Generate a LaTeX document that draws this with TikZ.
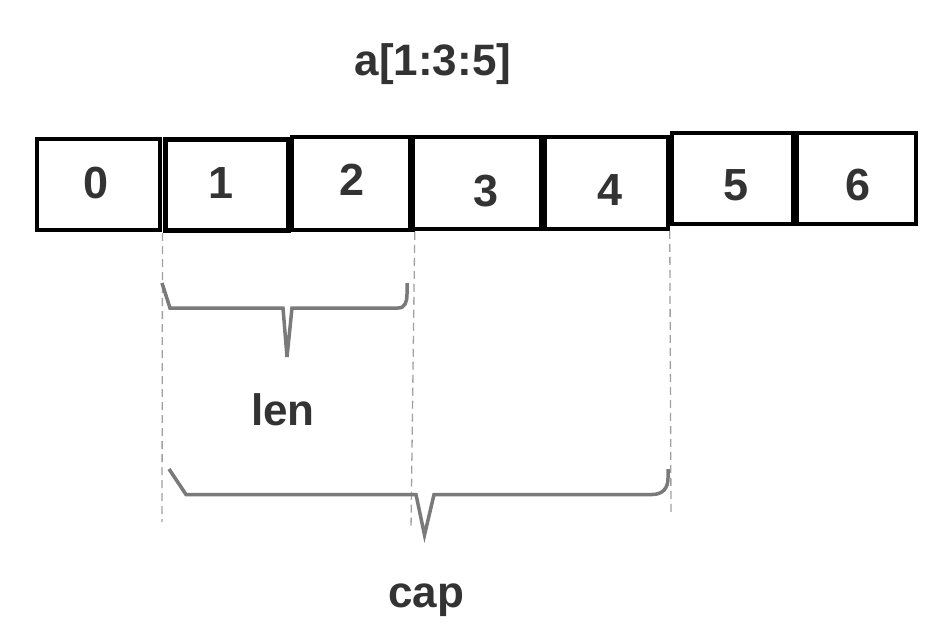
\documentclass[tikz,border=0pt]{standalone}
\usepackage{fontspec}
\setmainfont{Liberation Sans}
\definecolor{txt}{HTML}{333333}
\definecolor{brace}{HTML}{7A7A7A}
\definecolor{guide}{HTML}{A0A0A0}
\tikzset{
  cell/.style={draw=black, line width=3.5pt, inner sep=0pt, fill=none},
  thickcell/.style={cell, line width=5pt},
  digit/.style={anchor=base, text=txt, inner sep=0pt, font=\fontsize{45}{50}\selectfont\bfseries},
  label/.style={anchor=base, text=txt, inner sep=0pt, font=\fontsize{44}{50}\selectfont\bfseries},
  guideline/.style={draw=guide, line width=1.3pt, dash pattern=on 8pt off 5pt},
  bracepath/.style={draw=brace, line width=3.5pt, line join=miter, line cap=butt}
}
\begin{document}
\begin{tikzpicture}[x=1pt,y=-1pt]
\useasboundingbox[fill=white] (0,0) rectangle (950,630);
% cells
\node[cell, minimum width=123pt, minimum height=91pt] (c0) at (98.5,184.5) {};
\node[thickcell, minimum width=123pt, minimum height=91pt] (c1) at (226.5,185) {};
\node[cell, minimum width=121pt, minimum height=93pt] (c2) at (352.5,183.5) {};
\node[cell, minimum width=129pt, minimum height=92pt] (c3) at (476.5,183) {};
\node[cell, minimum width=123pt, minimum height=92pt] (c4) at (606.5,183) {};
\node[cell, minimum width=121pt, minimum height=91pt] (c5) at (732.5,178.5) {};
\node[cell, minimum width=119pt, minimum height=91pt] (c6) at (856.5,178.5) {};
\draw[line width=5pt] (c3.north west) -- (c3.south west);
% digits
\node[digit] (d0) at (96.5,198) {0};
\node[digit] (d1) at (221,198) {1};
\node[digit] (d2) at (352,195) {2};
\node[digit] (d3) at (486,206) {3};
\node[digit] (d4) at (610,205) {4};
\node[digit] (d5) at (736,200) {5};
\node[digit] (d6) at (858,200) {6};
% title and labels
\node[label] (title) at (433,75) {a[1:3:5]};
\node[label] (len) at (283,425) {len};
\node[label] (cap) at (426,607) {cap};
% guide lines
\coordinate (g1) at (162,522);
\coordinate (g2) at (411,530);
\coordinate (g3) at (671,515);
\draw[guideline] (c1.south west) -- (g1);
\draw[guideline] (c2.south east) -- (g2);
\draw[guideline] (c4.south east) -- (g3);
% braces
\draw[bracepath] (162,283) -- (170,308) -- (283,308) -- (287,357) -- (292,308) -- (398,308)
  .. controls (405,308) and (407,302) .. (407,294) -- (407,283);
\draw[bracepath] (169,469) -- (186,494.5) -- (416,494.5) -- (424.5,535) -- (434,494.5) -- (652,494.5)
  .. controls (663,494.5) and (668,488) .. (668,478) -- (668,469);
\end{tikzpicture}
\end{document}
